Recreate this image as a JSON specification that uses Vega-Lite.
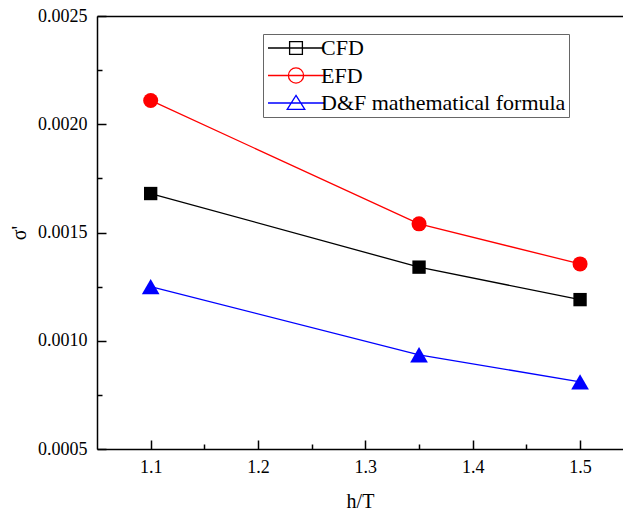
{
  "$schema": "https://vega.github.io/schema/vega-lite/v6.json",
  "width": 526,
  "height": 433,
  "autosize": {"type": "none"},
  "padding": {"left": 97, "top": 16, "right": 0, "bottom": 61},
  "background": "white",
  "config": {
    "view": {"stroke": null},
    "font": "Liberation Serif",
    "axis": {
      "domainColor": "black", "domainWidth": 1.5,
      "tickColor": "black", "tickWidth": 1.5,
      "labelColor": "black", "labelFont": "Liberation Serif", "labelFontSize": 18,
      "titleFont": "Liberation Serif", "titleFontSize": 20, "titleFontWeight": "normal", "titleColor": "black",
      "grid": false
    },
    "legend": {
      "orient": "none", "legendX": 166, "legendY": 18, "title": null,
      "strokeColor": "#666666", "fillColor": "white", "padding": 3,
      "labelFont": "Liberation Serif", "labelFontSize": 22, "labelColor": "black", "labelLimit": 0,
      "symbolSize": 256, "symbolOffset": 19, "labelOffset": 14, "rowPadding": 5.5,
      "symbolStrokeWidth": 1.3
    }
  },
  "data": {
    "values": [
      {"series": "CFD", "hT": 1.1, "sigma": 0.00168},
      {"series": "CFD", "hT": 1.35, "sigma": 0.00134},
      {"series": "CFD", "hT": 1.5, "sigma": 0.00119},
      {"series": "EFD", "hT": 1.1, "sigma": 0.00211},
      {"series": "EFD", "hT": 1.35, "sigma": 0.00154},
      {"series": "EFD", "hT": 1.5, "sigma": 0.001355},
      {"series": "D&F mathematical formula", "hT": 1.1, "sigma": 0.00125},
      {"series": "D&F mathematical formula", "hT": 1.35, "sigma": 0.000935},
      {"series": "D&F mathematical formula", "hT": 1.5, "sigma": 0.00081}
    ]
  },
  "resolve": {
    "axis": {"x": "independent", "y": "independent"},
    "scale": {"shape": "independent"},
    "legend": {"color": "independent", "fill": "independent", "shape": "independent", "stroke": "independent"}
  },
  "layer": [
    {
      "mark": {"type": "line", "strokeWidth": 1.3},
      "encoding": {
        "x": {"field": "hT", "type": "quantitative", "scale": {"domain": [1.05, 1.54], "nice": false, "zero": false},
              "axis": {"orient": "top", "labels": false, "ticks": false, "title": null}},
        "y": {"field": "sigma", "type": "quantitative", "scale": {"domain": [0.0005, 0.0025], "nice": false, "zero": false},
              "axis": null},
        "color": {"field": "series", "type": "nominal",
                  "scale": {"domain": ["CFD", "EFD", "D&F mathematical formula"], "range": ["#000000", "#ff0000", "#0000ff"]},
                  "legend": null}
      }
    },
    {
      "mark": {"type": "point", "filled": true, "opacity": 0, "strokeWidth": 1.3},
      "encoding": {
        "x": {"field": "hT", "type": "quantitative", "scale": {"domain": [1.05, 1.54], "nice": false, "zero": false},
              "axis": {"orient": "bottom", "title": null, "labels": false, "domain": false,
                       "values": [1.15, 1.25, 1.35, 1.45], "tickSize": -5}},
        "y": {"field": "sigma", "type": "quantitative", "scale": {"domain": [0.0005, 0.0025], "nice": false, "zero": false},
              "axis": {"orient": "left", "title": null, "labels": false, "domain": false,
                       "values": [0.00075, 0.00125, 0.00175, 0.00225], "tickSize": -5}},
        "fill": {"field": "series", "type": "nominal",
                 "scale": {"domain": ["CFD", "EFD", "D&F mathematical formula"], "range": ["#000000", "#ff0000", "#0000ff"]},
                 "legend": {}},
        "stroke": {"field": "series", "type": "nominal",
                   "scale": {"domain": ["CFD", "EFD", "D&F mathematical formula"], "range": ["#000000", "#ff0000", "#0000ff"]},
                   "legend": {}},
        "shape": {"field": "series", "type": "nominal",
                  "scale": {"domain": ["CFD", "EFD", "D&F mathematical formula"],
                            "range": ["M-3.5,0H3.5M-0.8,-0.8H0.8V0.8H-0.8Z",
                                      "M-3.5,0H3.5M-0.95,0A0.95,0.95,0,1,1,0.95,0A0.95,0.95,0,1,1,-0.95,0Z",
                                      "M-3.5,0H3.5M0,-0.95L1.1,0.8H-1.1Z"]},
                  "legend": {}}
      }
    },
    {
      "mark": {"type": "point", "filled": true, "opacity": 1, "size": 225},
      "encoding": {
        "x": {"field": "hT", "type": "quantitative", "scale": {"domain": [1.05, 1.54], "nice": false, "zero": false},
              "axis": {"orient": "bottom", "title": "h/T",
                       "values": [1.1, 1.2, 1.3, 1.4, 1.5], "format": ".1f",
                       "tickSize": -9, "labelPadding": 18, "titlePadding": 15}},
        "y": {"field": "sigma", "type": "quantitative", "scale": {"domain": [0.0005, 0.0025], "nice": false, "zero": false},
              "axis": {"orient": "left", "title": "σ'",
                       "values": [0.0005, 0.001, 0.0015, 0.002, 0.0025], "format": ".4f",
                       "tickSize": -9, "labelPadding": 19, "titlePadding": 8}},
        "color": {"field": "series", "type": "nominal",
                  "scale": {"domain": ["CFD", "EFD", "D&F mathematical formula"], "range": ["#000000", "#ff0000", "#0000ff"]},
                  "legend": null},
        "shape": {"field": "series", "type": "nominal",
                  "scale": {"domain": ["CFD", "EFD", "D&F mathematical formula"],
                            "range": ["M-0.89,-0.89H0.89V0.89H-0.89Z", "circle", "M0,-1.03L1.18,1.03H-1.18Z"]},
                  "legend": null}
      }
    }
  ]
}
